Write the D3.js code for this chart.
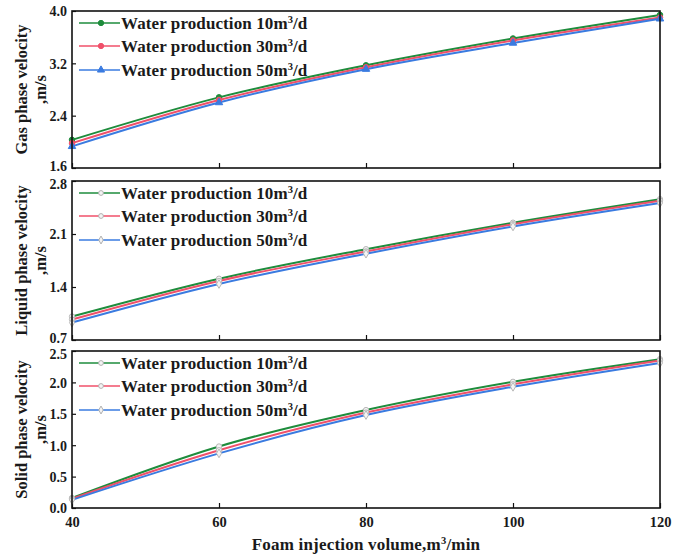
<!DOCTYPE html>
<html>
<head>
<meta charset="utf-8">
<script src="https://cdn.jsdelivr.net/npm/d3@7"></script>
<style>
  html, body { margin: 0; padding: 0; background: #fff; }
  svg text { font-family: "Liberation Serif", "Times New Roman", serif; font-weight: bold; fill: #1a1a1a; }
</style>
</head>
<body>
<svg id="chart" width="673" height="557"></svg>
<script>
// Foam injection volume (m³/min)
const foamVolume = [40, 60, 80, 100, 120];
const xTicks = [40, 60, 80, 100, 120];

// Series names and colours
const seriesNames = ["Water production 10m³/d", "Water production 30m³/d", "Water production 50m³/d"];
const seriesColors = ["#1e8c3c", "#f0506a", "#3a7be0"];

// Gas phase velocity, m/s
const gas10 = [2.03, 2.68, 3.17, 3.58, 3.94];
const gas30 = [1.98, 2.64, 3.14, 3.55, 3.90];
const gas50 = [1.93, 2.60, 3.11, 3.51, 3.88];
const gasTicks = [1.6, 2.4, 3.2, 4.0];

// Liquid phase velocity, m/s
const liq10 = [1.01, 1.51, 1.90, 2.25, 2.56];
const liq30 = [0.97, 1.48, 1.87, 2.23, 2.54];
const liq50 = [0.93, 1.44, 1.84, 2.20, 2.51];
const liqTicks = [0.7, 1.4, 2.1, 2.8];

// Solid phase velocity, m/s
const sol10 = [0.16, 0.98, 1.56, 2.01, 2.37];
const sol30 = [0.15, 0.92, 1.52, 1.97, 2.35];
const sol50 = [0.13, 0.87, 1.48, 1.93, 2.31];
const solTicks = [0.0, 0.5, 1.0, 1.5, 2.0, 2.5];

const panels = [
  { title: "Gas phase velocity", domain: [1.6, 4.0], ticks: gasTicks, fmt: d3.format(".1f"),
    series: [gas10, gas30, gas50], top: 11, bottom: 168, hollow: false },
  { title: "Liquid phase velocity", domain: [0.7, 2.8], ticks: liqTicks, fmt: d3.format(".1f"),
    series: [liq10, liq30, liq50], top: 181, bottom: 340, hollow: true },
  { title: "Solid phase velocity", domain: [0.0, 2.5], ticks: solTicks, fmt: d3.format(".1f"),
    series: [sol10, sol30, sol50], top: 351, bottom: 508, hollow: true }
];

const svg = d3.select("#chart");
const left = 72, right = 660;
const x = d3.scaleLinear().domain([40, 120]).range([left, right]);

const markerSymbols = [d3.symbolCircle, d3.symbolCircle, d3.symbolTriangle];
const hollowSymbols = [d3.symbolCircle, d3.symbolCircle, d3.symbolDiamond];

// text with a superscript "3" after the given prefix
function supText(sel, before, after, size) {
  sel.style("font-size", size + "px");
  sel.append("tspan").text(before);
  sel.append("tspan").text("3").attr("dy", -6).style("font-size", "10.5px");
  sel.append("tspan").text(after).attr("dy", 6);
}

panels.forEach((p, pi) => {
  const y = d3.scaleLinear().domain(p.domain).range([p.bottom, p.top]);
  const g = svg.append("g");

  // y axis with inward ticks
  const yAxis = d3.axisLeft(y).tickValues(p.ticks).tickFormat(p.fmt).tickSizeInner(-4).tickSizeOuter(0).tickPadding(5);
  const ya = g.append("g").attr("transform", `translate(${left},0)`).call(yAxis);
  ya.select(".domain").remove();
  ya.selectAll("line").attr("stroke", "#111").attr("stroke-width", 1.2);
  ya.selectAll("text").style("font-size", "14px");
  // keep the stacked end labels of neighbouring panels apart
  ya.selectAll(".tick text").attr("dy", (d) => {
    if (pi < panels.length - 1 && d === p.domain[0]) return "0.15em";
    if (pi > 0 && d === p.domain[1]) return "0.5em";
    return "0.35em";
  });

  // x axis with inward ticks
  const xAxis = d3.axisBottom(x).tickValues(xTicks).tickSizeInner(-5).tickSizeOuter(0).tickPadding(9);
  const xa = g.append("g").attr("transform", `translate(0,${p.bottom})`).call(xAxis);
  xa.select(".domain").remove();
  xa.selectAll("line").attr("stroke", "#111").attr("stroke-width", 1.2);
  if (pi === panels.length - 1) {
    xa.selectAll("text").style("font-size", "14.5px");
  } else {
    xa.selectAll("text").remove();
  }

  // lines
  const line = d3.line().x((d, i) => x(foamVolume[i])).y(d => y(d)).curve(d3.curveCatmullRom.alpha(0.5));
  p.series.forEach((vals, si) => {
    g.append("path").datum(vals).attr("d", line)
      .attr("fill", "none").attr("stroke", seriesColors[si]).attr("stroke-width", 2);
  });

  // point markers
  p.series.forEach((vals, si) => {
    const sym = d3.symbol().type(p.hollow ? hollowSymbols[si] : markerSymbols[si]).size(p.hollow ? 22 : 24);
    g.selectAll(null).data(vals).enter().append("path")
      .attr("d", sym)
      .attr("transform", (d, i) => `translate(${x(foamVolume[i])},${y(d)})`)
      .attr("fill", p.hollow ? "#f4f4f4" : seriesColors[si])
      .attr("stroke", p.hollow ? "#b8b8b8" : seriesColors[si])
      .attr("stroke-width", 1);
  });

  // frame
  g.append("rect").attr("x", left).attr("y", p.top).attr("width", right - left).attr("height", p.bottom - p.top)
    .attr("fill", "none").attr("stroke", "#111").attr("stroke-width", 1.6);

  // legend
  const rowY = [p.top + 12, p.top + 35, p.top + 59];
  seriesNames.forEach((name, si) => {
    const lg = g.append("g").attr("transform", `translate(0,${rowY[si]})`);
    lg.append("line").attr("x1", 79).attr("x2", 120).attr("y1", 0).attr("y2", 0)
      .attr("stroke", seriesColors[si]).attr("stroke-width", 1.6);
    const sym = d3.symbol().type(p.hollow ? hollowSymbols[si] : markerSymbols[si]).size(p.hollow ? 18 : 22);
    lg.append("path").attr("d", sym).attr("transform", "translate(101,0)")
      .attr("fill", p.hollow ? "#f4f4f4" : seriesColors[si])
      .attr("stroke", p.hollow ? "#b0b0b0" : seriesColors[si]).attr("stroke-width", 1);
    const t = lg.append("text").attr("x", 121).attr("y", 6).style("letter-spacing", "0.1px");
    const m = name.match(/^(.*m)³(\/d)$/);
    supText(t, m[1], m[2], 17);
  });

  // y axis title (two lines)
  const cy = (p.top + p.bottom) / 2;
  svg.append("text").attr("transform", `translate(21,${cy}) rotate(-90)`)
    .attr("text-anchor", "middle").attr("dy", "0.35em").style("font-size", "16.5px").text(p.title);
  svg.append("text").attr("transform", `translate(40,${cy}) rotate(-90)`)
    .attr("text-anchor", "middle").attr("dy", "0.35em").style("font-size", "16.5px").text(",m/s");
});

// x axis title
const xt = svg.append("text").attr("x", (left + right) / 2).attr("y", 550)
  .attr("text-anchor", "middle").style("letter-spacing", "0.2px");
supText(xt, "Foam injection volume,m", "/min", 17);
</script>
</body>
</html>
